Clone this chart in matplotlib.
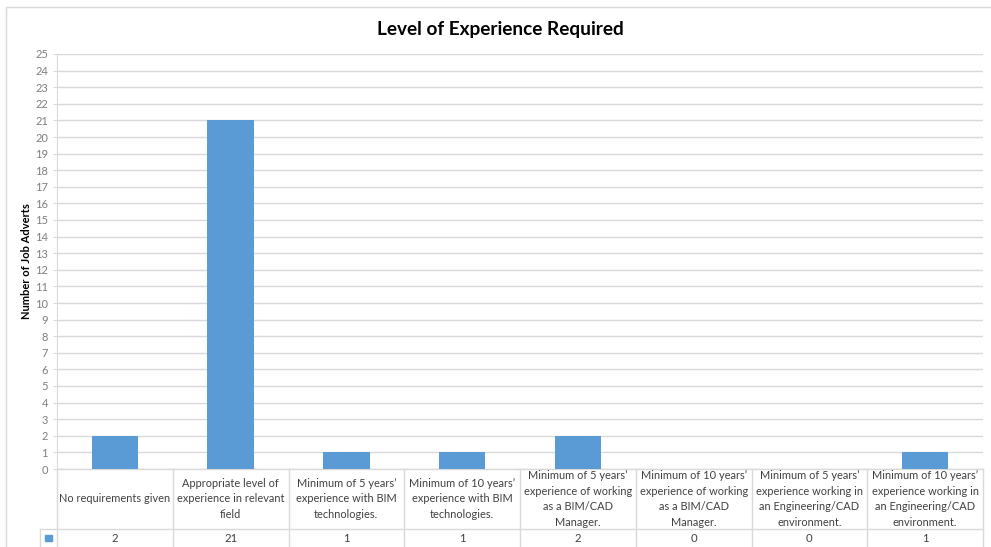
import matplotlib
matplotlib.use("Agg")
import matplotlib.pyplot as plt
from matplotlib.lines import Line2D
from matplotlib.patches import Rectangle

categories = [
    "No requirements given",
    "Appropriate level of\nexperience in relevant\nfield",
    "Minimum of 5 years\u2019\nexperience with BIM\ntechnologies.",
    "Minimum of 10 years\u2019\nexperience with BIM\ntechnologies.",
    "Minimum of 5 years\u2019\nexperience of working\nas a BIM/CAD\nManager.",
    "Minimum of 10 years\u2019\nexperience of working\nas a BIM/CAD\nManager.",
    "Minimum of 5 years\u2019\nexperience working in\nan Engineering/CAD\nenvironment.",
    "Minimum of 10 years\u2019\nexperience working in\nan Engineering/CAD\nenvironment.",
]
values = [2, 21, 1, 1, 2, 0, 0, 1]
yticks = list(range(0, 26))

FONT = "Lato"
BAR = "#5B9BD5"
GRID = "#D9D9D9"
TXT = "#404040"

W, H = 991, 547
fig = plt.figure(figsize=(W / 100, H / 100), dpi=100)
fig.patch.set_facecolor("white")

# chart border
fig.add_artist(Rectangle((6 / W, -0.01), 1.02 - 6 / W, 1 - 7 / H + 0.01, transform=fig.transFigure,
                         fill=False, edgecolor=GRID, linewidth=1))

left, right, top, bottom = 57, 983, 54, 469
ax = fig.add_axes([left / W, 1 - bottom / H, (right - left) / W, (bottom - top) / H])
n = len(values)
x = list(range(n))
ax.bar(x, values, width=0.4, color=BAR, zorder=3)
ax.set_xlim(-0.5, n - 0.5)
ax.set_ylim(0, 25)
ax.set_yticks(yticks)
ax.set_yticklabels([str(t) for t in yticks], fontsize=8, color="#7F7F7F", family=FONT)
ax.tick_params(axis="y", length=3, color=GRID, pad=3.5)
ax.tick_params(axis="x", length=0, labelbottom=False)
ax.grid(axis="y", color=GRID, linewidth=1, zorder=0)
for s in ["top", "right", "bottom"]:
    ax.spines[s].set_visible(False)
ax.spines["left"].set_color(GRID)
ax.set_ylabel("Number of Job Adverts", fontsize=8, fontweight="bold", family=FONT, color="black")
ax.yaxis.set_label_coords((32 - left) / (right - left), 0.5)

# data table
tr = ax.get_xaxis_transform()
ph = bottom - top
row1 = (529 - bottom) / ph  # category row height (axes fraction)
row2 = (547 - 529) / ph + 0.05
y0 = 0
y1 = -row1
y2 = -row1 - row2
lkw = dict(color=GRID, linewidth=1, clip_on=False, transform=tr)
ax.add_line(Line2D([-0.5, n - 0.5], [y0, y0], **lkw))
xl = -0.5 - (57 - 40) / ((right - left) / n)
ax.add_line(Line2D([xl, n - 0.5], [y1, y1], **lkw))
for i in range(n + 1):
    ax.add_line(Line2D([i - 0.5, i - 0.5], [y0, y2], **lkw))
ax.add_line(Line2D([xl, xl], [y1, y2], **lkw))
for i, (c, v) in enumerate(zip(categories, values)):
    ax.text(i, (y0 + y1) / 2, c, transform=tr, ha="center", va="center", fontsize=7.9,
            color=TXT, family=FONT, linespacing=1.55, clip_on=False)
    ax.text(i, y1 - (9 / ph), str(v), transform=tr, ha="center", va="center", fontsize=8.2,
            color=TXT, family=FONT, clip_on=False)
# legend key
kx = (xl + -0.5) / 2
ax.add_patch(Rectangle((kx - 0.03, y1 - 12 / ph), 0.06, 6 / ph, transform=tr, color=BAR, clip_on=False))

fig.text(500 / W, 1 - 30 / H, "Level of Experience Required", ha="center", va="center",
         fontsize=13.7, fontweight="bold", family=FONT, color="black")

fig.savefig("out.png", dpi=100)
